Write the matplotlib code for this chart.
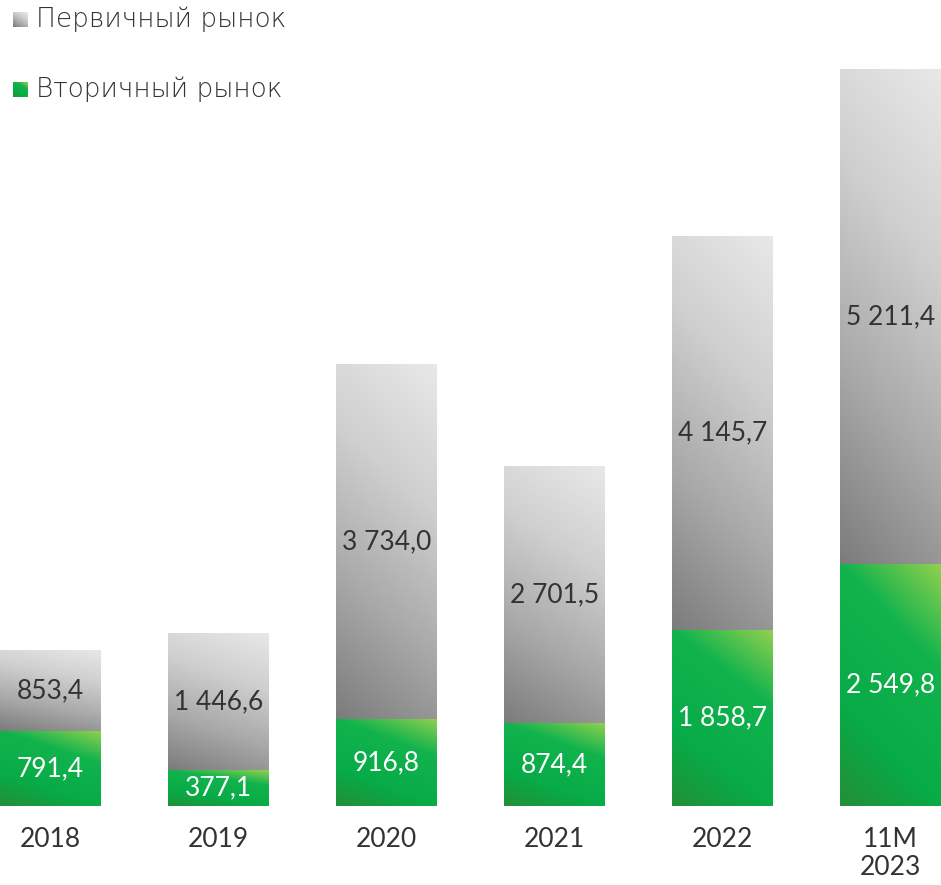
import numpy as np
import matplotlib.pyplot as plt
from matplotlib.colors import LinearSegmentedColormap

categories = ["2018", "2019", "2020", "2021", "2022", "11M\n2023"]
vtorichny = [791.4, 377.1, 916.8, 874.4, 1858.7, 2549.8]
pervichny = [853.4, 1446.6, 3734.0, 2701.5, 4145.7, 5211.4]
series_names = ["Первичный рынок", "Вторичный рынок"]

plt.rcParams['font.family'] = ['Lato', 'DejaVu Sans']

gray_cmap = LinearSegmentedColormap.from_list(
    "gr", ["#7c7c7c", "#a9a9a9", "#cfcfcf", "#e8e8e8"])
green_cmap = LinearSegmentedColormap.from_list(
    "gn", [(0.0, "#238f37"), (0.3, "#07ab47"), (0.7, "#12b34d"), (1.0, "#92d050")])


def fmt(v):
    return f"{v:,.1f}".replace(",", " ").replace(".", ",")


def fill_gradient(ax, bar, cmap, wv=0.75):
    x0, y0 = bar.get_x(), bar.get_y()
    w, h = bar.get_width(), bar.get_height()
    u, v = np.meshgrid(np.linspace(0, 1, 60), np.linspace(0, 1, 200))
    t = wv * v + (1 - wv) * u
    im = ax.imshow(t, cmap=cmap, origin="lower", aspect="auto",
                   extent=(x0, x0 + w, y0, y0 + h), vmin=0, vmax=1, zorder=2)
    im.set_clip_path(bar)
    bar.set_alpha(0)


fig = plt.figure(figsize=(9.41, 8.85), dpi=100)
ax = fig.add_axes([0, 79 / 885, 1, 806 / 885])

x = np.arange(len(categories))
width = 0.6
b_green = ax.bar(x, vtorichny, width, color="#0bb04a", zorder=1)
b_gray = ax.bar(x, pervichny, width, bottom=vtorichny, color="#b0b0b0", zorder=1)

for bar in b_green:
    fill_gradient(ax, bar, green_cmap, 0.7)
for bar in b_gray:
    fill_gradient(ax, bar, gray_cmap, 0.8)

for i in range(len(categories)):
    ax.text(x[i], vtorichny[i] / 2, fmt(vtorichny[i]),
            ha="center", va="center", fontsize=19, color="white", zorder=3)
    ax.text(x[i], vtorichny[i] + pervichny[i] / 2, fmt(pervichny[i]),
            ha="center", va="center", fontsize=19, color="#333333", zorder=3)

ax.set_xlim(-0.3, 5.3)
ax.set_ylim(0, 8488)
ax.set_xticks(x)
ax.set_xticklabels(categories, fontsize=19, color="#333333", linespacing=1.15)
ax.tick_params(axis="x", length=0, pad=15)
ax.set_yticks([])
for s in ax.spines.values():
    s.set_visible(False)

# legend
for k, (name, cmap) in enumerate(zip(series_names, [gray_cmap, green_cmap])):
    ytop = 12 + k * 70
    lax = fig.add_axes([13 / 941, 1 - (ytop + 15) / 885, 15 / 941, 15 / 885])
    u, v = np.meshgrid(np.linspace(0, 1, 20), np.linspace(0, 1, 20))
    lax.imshow(0.6 * v + 0.4 * u, cmap=cmap, origin="lower", aspect="auto", vmin=0, vmax=1)
    lax.axis("off")
    fig.text(36 / 941, 1 - (ytop + 7) / 885, name, fontsize=19, color="#333333",
             ha="left", va="center", family=["DejaVu Sans"], fontweight="light")

fig.savefig("out.png", dpi=100)
